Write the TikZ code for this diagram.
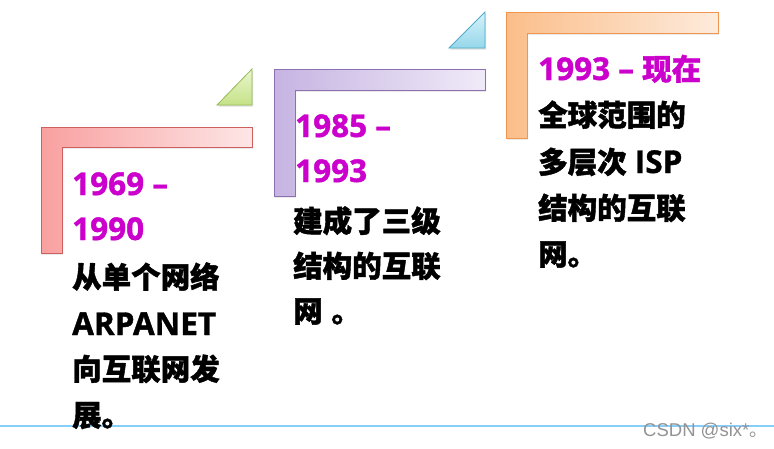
\documentclass[tikz,border=0pt]{standalone}
\usepackage{fontspec}
\setmainfont{Open Sans}[BoldFeatures={FakeBold=1.2}]
\newfontfamily\cjk{Noto Sans CJK SC}[BoldFeatures={FakeBold=1.4}]
\newfontfamily\wmfont{Liberation Sans}
\usetikzlibrary{shadows}
\definecolor{yearc}{RGB}{204,0,204}
\definecolor{redL}{RGB}{249,160,160}
\definecolor{redR}{RGB}{253,230,230}
\definecolor{redB}{RGB}{205,95,95}
\definecolor{purL}{RGB}{198,180,226}
\definecolor{purR}{RGB}{240,234,248}
\definecolor{purB}{RGB}{140,112,176}
\definecolor{orL}{RGB}{251,190,138}
\definecolor{orR}{RGB}{253,235,220}
\definecolor{orB}{RGB}{240,150,80}
\definecolor{grT}{RGB}{235,246,205}
\definecolor{grB}{RGB}{196,226,135}
\definecolor{grE}{RGB}{150,185,85}
\definecolor{blT}{RGB}{215,242,250}
\definecolor{blB}{RGB}{150,215,235}
\definecolor{blE}{RGB}{80,172,200}
\definecolor{linec}{RGB}{135,206,250}
\begin{document}
\begin{tikzpicture}[x=1pt,y=-1pt,
  yearstyle/.style={anchor=base west,inner sep=0pt,text=yearc,font=\bfseries\fontsize{31.5}{31.5}\selectfont},
  descstyle/.style={anchor=base west,inner sep=0pt,text=black,font=\bfseries\fontsize{31.5}{31.5}\selectfont},
  cjkc/.style={font=\bfseries\fontsize{29.5}{29.5}\selectfont\cjk},
  lshape/.style={line width=0.9pt,line join=miter,drop shadow={shadow xshift=1.2pt,shadow yshift=-1.5pt,opacity=0.25}},
  tri/.style={line width=0.8pt,line join=miter,drop shadow={shadow xshift=1.2pt,shadow yshift=-1.5pt,opacity=0.25}}]
\useasboundingbox (0,0) rectangle (774,448);
\fill[white] (0,0) rectangle (774,448);
% bottom line
\coordinate (lineA) at (0,426);
\coordinate (lineB) at (774,426);
\draw[linec,line width=2.5pt] (lineA) -- (lineB);
% L shapes
\path[lshape,left color=redL,right color=redR,draw=redB]
  (41,127) -- (252,127) -- (252,147) -- (62,147) -- (62,253) -- (41,253) -- cycle;
\path[lshape,left color=purL,right color=purR,draw=purB]
  (274,69) -- (485,69) -- (485,90) -- (295,90) -- (295,196) -- (274,196) -- cycle;
\path[lshape,left color=orL,right color=orR,draw=orB]
  (506,12) -- (718,12) -- (718,33) -- (527,33) -- (527,138) -- (506,138) -- cycle;
% triangles
\path[tri,top color=grT,bottom color=grB,draw=grE]
  (217,105) -- (252,105) -- (252,69) -- cycle;
\path[tri,top color=blT,bottom color=blB,draw=blE]
  (449,48) -- (485,48) -- (485,12) -- cycle;
% column 1
\node[yearstyle] (y1a) at (72,195) {1969 –};
\node[yearstyle] (y1b) at (72,240) {1990};
\node[descstyle,cjkc] (d1a) at (72,288) {从单个网络};
\node[descstyle] (d1b) at (72,335) {ARPANET};
\node[descstyle,cjkc] (d1c) at (72,380) {向互联网发};
\node[descstyle,cjkc] (d1d) at (72,426) {展。};
% column 2
\node[yearstyle] (y2a) at (295,137) {1985 –};
\node[yearstyle] (y2b) at (295,182) {1993};
\node[descstyle,cjkc] (d2a) at (293,232) {建成了三级};
\node[descstyle,cjkc] (d2b) at (293,277) {结构的互联};
\node[descstyle,cjkc] (d2c) at (293,322) {网\hspace{0.3em}。};
% column 3
\node[yearstyle] (y3a) at (538,80) {1993 – {\fontsize{29.5}{29.5}\selectfont\cjk 现在}};
\node[descstyle,cjkc] (d3a) at (538,126) {全球范围的};
\node[descstyle] (d3b) at (538,173) {{\fontsize{29.5}{29.5}\selectfont\cjk 多层次} ISP};
\node[descstyle,cjkc] (d3c) at (538,219) {结构的互联};
\node[descstyle,cjkc] (d3d) at (538,265) {网。};
% watermark
\node[anchor=base west,inner sep=0pt,text=gray!85,font=\wmfont\fontsize{18.5}{18.5}\selectfont] (wm) at (643,436) {CSDN @six*{\cjk 。}};
\end{tikzpicture}
\end{document}
